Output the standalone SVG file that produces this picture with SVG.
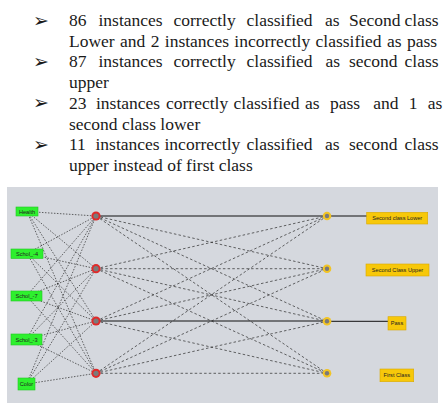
<svg xmlns="http://www.w3.org/2000/svg" width="445" height="414" viewBox="0 0 445 414">
<style>
.t{font-family:"Liberation Serif","Times New Roman","DejaVu Serif",serif;font-size:17.5px;fill:#1a1a1a}
.b{font-family:"DejaVu Sans",sans-serif;font-size:19px;fill:#1a1a1a}
.in{fill:#2ef02e;stroke:#22c822;stroke-width:0.6}
.out{fill:#f7c80a;stroke:#d9a800;stroke-width:0.6}
.lbl{font-family:"Liberation Sans",Arial,sans-serif;font-size:5.6px;fill:#222}
.c1{stroke:#2a2a2a;stroke-width:0.7;stroke-dasharray:1.5 1.5;fill:none}
.c2{stroke:#2a2a2a;stroke-width:0.7;stroke-dasharray:2.5 2.2;fill:none}
.s{stroke:#111;stroke-width:1;fill:none}
.hr{fill:#e02a2a}
.hy{fill:#f2c424}
.core{fill:#7a7a7a}
</style>
<rect width="445" height="414" fill="#ffffff"/>
<g id="text">
<text class="b" x="33" y="26.5">➢</text>
<text class="t" y="26"><tspan x="69">86</tspan><tspan x="98.5">instances</tspan><tspan x="173.5">correctly</tspan><tspan x="246.5">classified</tspan><tspan x="325">as</tspan><tspan x="349">Second</tspan><tspan x="404.5">class</tspan></text>
<text class="t" x="69" y="46.7" word-spacing="1">Lower and 2 instances incorrectly classified as pass</text>
<text class="b" x="33" y="67.9">➢</text>
<text class="t" y="67.4"><tspan x="69">87</tspan><tspan x="98.5">instances</tspan><tspan x="173.5">correctly</tspan><tspan x="246.5">classified</tspan><tspan x="325.5">as</tspan><tspan x="349">second</tspan><tspan x="404.5">class</tspan></text>
<text class="t" x="69" y="87.8">upper</text>
<text class="b" x="33" y="109.3">➢</text>
<text class="t" y="108.8"><tspan x="69">23</tspan><tspan x="96">instances</tspan><tspan x="166">correctly</tspan><tspan x="233.5">classified</tspan><tspan x="305">as</tspan><tspan x="330">pass</tspan><tspan x="373.3">and</tspan><tspan x="408.7">1</tspan><tspan x="427.7">as</tspan></text>
<text class="t" x="69" y="129.5">second class lower</text>
<text class="b" x="33" y="150.7">➢</text>
<text class="t" y="150.2"><tspan x="69">11</tspan><tspan x="95.5">instances</tspan><tspan x="164.5">incorrectly</tspan><tspan x="246.5">classified</tspan><tspan x="325">as</tspan><tspan x="349">second</tspan><tspan x="404.5">class</tspan></text>
<text class="t" x="69" y="170.9">upper instead of first class</text>
</g>
<rect id="panel" x="7" y="187" width="431" height="216" fill="#d5d8de"/>
<g id="connectors">
<path class="c1" d="M27 211.5L96 216M27 211.5L96 268.7M27 211.5L96 321M27 211.5L96 373.3"/>
<path class="c1" d="M27 253.5L96 216M27 253.5L96 268.7M27 253.5L96 321M27 253.5L96 373.3"/>
<path class="c1" d="M26.5 296L96 216M26.5 296L96 268.7M26.5 296L96 321M26.5 296L96 373.3"/>
<path class="c1" d="M26.5 339.5L96 216M26.5 339.5L96 268.7M26.5 339.5L96 321M26.5 339.5L96 373.3"/>
<path class="c1" d="M26.5 384L96 216M26.5 384L96 268.7M26.5 384L96 321M26.5 384L96 373.3"/>
<path class="s" d="M96 216H327M96 321H327"/>
<path class="c2" d="M96 216L327 268.7M96 216L327 321.3M96 216L327 373.3"/>
<path class="c2" d="M96 268.7L327 216M96 268.7L327 268.7M96 268.7L327 321.3M96 268.7L327 373.3"/>
<path class="c2" d="M96 321L327 216M96 321L327 268.7M96 321L327 373.3"/>
<path class="c2" d="M96 373.3L327 216M96 373.3L327 268.7M96 373.3L327 321.3M96 373.3L327 373.3"/>
<path class="s" d="M327 216H367M327 321.3H388"/>
</g>
<g id="in1"><rect class="in" x="16" y="207" width="22" height="9"/><text class="lbl" x="27" y="213.5" text-anchor="middle">Health</text></g>
<g id="in2"><rect class="in" x="11" y="249" width="32" height="9.5"/><text class="lbl" x="27" y="255.8" text-anchor="middle">Schol_-4</text></g>
<g id="in3"><rect class="in" x="11" y="291" width="31" height="10"/><text class="lbl" x="26.5" y="298" text-anchor="middle">Schol_-7</text></g>
<g id="in4"><rect class="in" x="11" y="334" width="31" height="11"/><text class="lbl" x="26.5" y="341.5" text-anchor="middle">Schol_-3</text></g>
<g id="in5"><rect class="in" x="18" y="378" width="17" height="12"/><text class="lbl" x="26.5" y="386" text-anchor="middle">Color</text></g>
<g id="h1"><circle class="hr" cx="96" cy="216" r="4.6"/><circle class="core" cx="96" cy="216" r="2.6"/></g>
<g id="h2"><circle class="hr" cx="96" cy="268.7" r="4.6"/><circle class="core" cx="96" cy="268.7" r="2.6"/></g>
<g id="h3"><circle class="hr" cx="96" cy="321" r="4.6"/><circle class="core" cx="96" cy="321" r="2.6"/></g>
<g id="h4"><circle class="hr" cx="96" cy="373.3" r="4.6"/><circle class="core" cx="96" cy="373.3" r="2.6"/></g>
<g id="o1"><circle class="hy" cx="327" cy="216" r="4.3"/><circle class="core" cx="327" cy="216" r="2.2"/></g>
<g id="o2"><circle class="hy" cx="327" cy="268.7" r="4.3"/><circle class="core" cx="327" cy="268.7" r="2.2"/></g>
<g id="o3"><circle class="hy" cx="327" cy="321.3" r="4.3"/><circle class="core" cx="327" cy="321.3" r="2.2"/></g>
<g id="o4"><circle class="hy" cx="327" cy="373.3" r="4.3"/><circle class="core" cx="327" cy="373.3" r="2.2"/></g>
<g id="lab1"><rect class="out" x="366.7" y="212.3" width="61" height="11.7"/><text class="lbl" x="397.2" y="220.2" text-anchor="middle">Second class Lower</text></g>
<g id="lab2"><rect class="out" x="366" y="264" width="63" height="12"/><text class="lbl" x="397.5" y="272" text-anchor="middle">Second Class Upper</text></g>
<g id="lab3"><rect class="out" x="388" y="316.7" width="18" height="13.3"/><text class="lbl" x="397" y="325.3" text-anchor="middle">Pass</text></g>
<g id="lab4"><rect class="out" x="380" y="369" width="33.7" height="12.7"/><text class="lbl" x="396.8" y="377.3" text-anchor="middle">First Class</text></g>
</svg>
